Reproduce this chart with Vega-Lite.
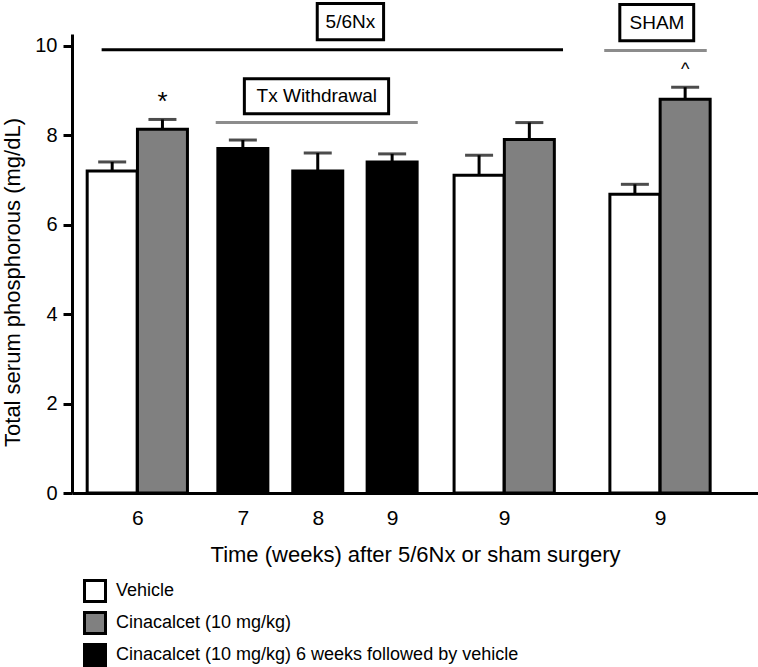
{
  "$schema": "https://vega.github.io/schema/vega-lite/v6.json",
  "width": 686,
  "height": 459,
  "autosize": "none",
  "padding": {"left": 72, "top": 34, "right": 0, "bottom": 174},
  "background": "white",
  "config": {
    "view": {"stroke": null},
    "font": "Liberation Sans",
    "axis": {"labelFont": "Liberation Sans", "titleFont": "Liberation Sans", "labelColor": "black", "titleColor": "black", "domainColor": "black", "tickColor": "black", "titleFontWeight": "normal"},
    "legend": {"labelFont": "Liberation Sans"}
  },
  "datasets": {
    "bars": [
      {"pos": 0.7, "week": "6", "group": "Vehicle", "mean": 7.2, "sem": 0.2},
      {"pos": 1.7, "week": "6", "group": "Cinacalcet (10 mg/kg)", "mean": 8.13, "sem": 0.22},
      {"pos": 3.3, "week": "7", "group": "Cinacalcet (10 mg/kg) 6 weeks followed by vehicle", "mean": 7.7, "sem": 0.19},
      {"pos": 4.79, "week": "8", "group": "Cinacalcet (10 mg/kg) 6 weeks followed by vehicle", "mean": 7.2, "sem": 0.4},
      {"pos": 6.27, "week": "9", "group": "Cinacalcet (10 mg/kg) 6 weeks followed by vehicle", "mean": 7.4, "sem": 0.18},
      {"pos": 8.0, "week": "9", "group": "Vehicle", "mean": 7.1, "sem": 0.45},
      {"pos": 9.0, "week": "9", "group": "Cinacalcet (10 mg/kg)", "mean": 7.9, "sem": 0.38},
      {"pos": 11.1, "week": "9", "group": "Vehicle", "mean": 6.68, "sem": 0.22},
      {"pos": 12.1, "week": "9", "group": "Cinacalcet (10 mg/kg)", "mean": 8.8, "sem": 0.27}
    ],
    "marks": [
      {"label": "*", "pos": 1.7, "y": 8.57},
      {"label": "^", "pos": 12.1, "y": 9.34}
    ],
    "lines": [
      {"label": "5/6Nx", "start": 0.49, "end": 9.67, "y": 9.91},
      {"label": "Tx Withdrawal", "start": 2.76, "end": 6.78, "y": 8.28},
      {"label": "SHAM", "start": 10.49, "end": 12.53, "y": 9.89}
    ],
    "boxes": [
      {"label": "5/6Nx", "left": 4.78, "right": 6.1, "bottom": 10.13, "top": 10.94, "cx": 5.44, "cy": 10.53},
      {"label": "Tx Withdrawal", "left": 3.33, "right": 6.2, "bottom": 8.48, "top": 9.26, "cx": 4.77, "cy": 8.87},
      {"label": "SHAM", "left": 10.8, "right": 12.27, "bottom": 10.11, "top": 10.92, "cx": 11.54, "cy": 10.51}
    ]
  },
  "layer": [
    {
      "data": {"name": "bars"},
      "mark": {"type": "errorbar", "ticks": {"size": 28, "thickness": 3}, "thickness": 3, "color": "black"},
      "encoding": {
        "x": {"field": "pos", "type": "quantitative", "scale": {"domain": [0, 13.45], "nice": false, "zero": false},
          "axis": {"values": [1.2, 3.3, 4.79, 6.27, 8.5, 11.6],
            "labelExpr": "datum.value < 2 ? '6' : datum.value < 4 ? '7' : datum.value < 5.5 ? '8' : '9'",
            "ticks": false, "grid": false, "domainWidth": 3, "labelFontSize": 21, "labelPadding": 14,
            "title": "Time (weeks) after 5/6Nx or sham surgery", "titleFontSize": 22, "titlePadding": 16}},
        "y": {"field": "mean", "type": "quantitative", "scale": {"domain": [0, 10.26], "nice": false},
          "axis": {"values": [0, 2, 4, 6, 8, 10], "grid": false, "domainWidth": 3, "tickWidth": 3, "tickSize": 9,
            "labelFontSize": 20, "labelPadding": 6, "title": "Total serum phosphorous (mg/dL)", "titleFontSize": 22, "titlePadding": 10, "titleY": 248}},
        "yError": {"field": "sem"}
      }
    },
    {
      "data": {"name": "bars"},
      "mark": {"type": "bar", "size": 50, "stroke": "black", "strokeWidth": 3},
      "encoding": {
        "x": {"field": "pos", "type": "quantitative"},
        "y": {"field": "mean", "type": "quantitative"},
        "fill": {"field": "group", "type": "nominal",
          "scale": {"domain": ["Vehicle", "Cinacalcet (10 mg/kg)", "Cinacalcet (10 mg/kg) 6 weeks followed by vehicle"], "range": ["white", "#808080", "black"]},
          "legend": {"orient": "none", "legendX": 11, "legendY": 545, "direction": "vertical", "title": null,
            "symbolType": "square", "symbolSize": 441, "symbolStrokeColor": "black", "symbolStrokeWidth": 3,
            "labelFontSize": 18, "labelColor": "black", "labelOffset": 9, "rowPadding": -2, "symbolOpacity": 1, "labelLimit": 0}}
      }
    },
    {
      "data": {"name": "lines"},
      "mark": {"type": "rule", "strokeWidth": 3},
      "encoding": {
        "x": {"field": "start", "type": "quantitative"},
        "x2": {"field": "end"},
        "y": {"field": "y", "type": "quantitative"},
        "stroke": {"condition": {"test": "datum.label === '5/6Nx'", "value": "black"}, "value": "#8c8c8c"}
      }
    },
    {
      "data": {"name": "boxes"},
      "mark": {"type": "rect", "fill": "white", "stroke": "black", "strokeWidth": 3},
      "encoding": {
        "x": {"field": "left", "type": "quantitative"},
        "x2": {"field": "right"},
        "y": {"field": "bottom", "type": "quantitative"},
        "y2": {"field": "top"}
      }
    },
    {
      "data": {"name": "boxes"},
      "mark": {"type": "text", "fontSize": 19, "color": "black", "align": "center", "baseline": "middle"},
      "encoding": {
        "x": {"field": "cx", "type": "quantitative"},
        "y": {"field": "cy", "type": "quantitative"},
        "text": {"field": "label"}
      }
    },
    {
      "data": {"name": "marks"},
      "mark": {"type": "text", "color": "black", "align": "center", "baseline": "alphabetic"},
      "encoding": {
        "x": {"field": "pos", "type": "quantitative"},
        "y": {"field": "y", "type": "quantitative"},
        "text": {"field": "label"},
        "size": {"condition": {"test": "datum.label === '*'", "value": 26}, "value": 18},
        "fontWeight": {"condition": {"test": "datum.label === '*'", "value": "bold"}, "value": "normal"}
      }
    }
  ]
}
